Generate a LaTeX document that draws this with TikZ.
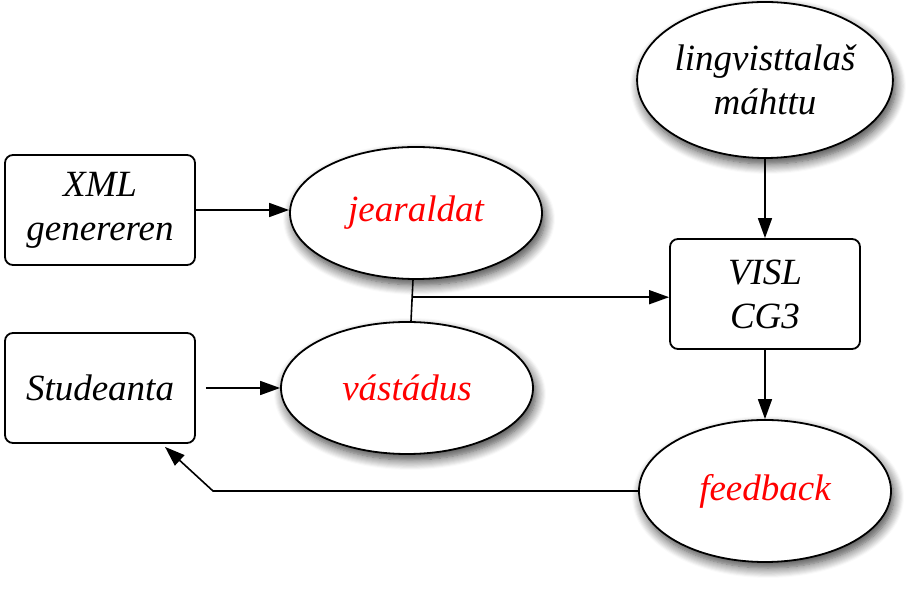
\documentclass[tikz,border=0pt]{standalone}
\usepackage{fontspec}
\setmainfont{Liberation Serif}
\usetikzlibrary{shapes.geometric,arrows.meta,calc,shadows.blur}

\tikzset{
  boks/.style={draw,line width=0.9pt,rounded corners=4pt,fill=white,
    minimum width=95pt,minimum height=55pt,align=center},
  ovala/.style={ellipse,draw,line width=0.9pt,fill=white,inner sep=0pt,
    minimum width=126pt,minimum height=66pt,align=center,
    blur shadow={shadow xshift=1.5pt,shadow yshift=-3pt,shadow blur steps=10,shadow blur radius=5pt,shadow opacity=75}},
  linja/.style={line width=0.8pt},
  nuolla/.style={linja,-{Triangle[length=10pt,width=7pt]}}
}

\begin{document}
\begin{tikzpicture}[x=0.5pt,y=-0.5pt,font=\fontsize{18.5}{22}\selectfont\itshape]
\useasboundingbox (0,0) rectangle (912,592);

% bovssat
\node [boks] (xml)  at (100,210) {XML\\genereren};
\node [boks] (stud) at (100,388) {Studeanta};
\node [boks] (visl) at (765,294) {VISL\\CG3};

% ovalat
\node [ovala,text=red] (jear) at (416,213) {jearaldat};
\node [ovala,text=red] (vast) at (407,388) {vástádus};
\node [ovala,minimum width=125pt,minimum height=78pt] (ling) at (765,80) {lingvisttalaš\\máhttu};
\node [ovala,text=red,minimum height=71pt] (feed) at (765,491) {feedback};

% njuolat
\draw [nuolla] (xml.east) -- (xml.east -| jear.west);
\draw [nuolla] ([xshift=5pt]stud.east) -- (vast.west);
\draw [linja] ([xshift=-1.5pt]jear.south) -- ([xshift=2pt]vast.north);
\coordinate (gaska) at ($([xshift=-1.5pt]jear.south)!0.42!([xshift=2pt]vast.north)$);
\draw [nuolla] (gaska) -- (gaska -| visl.west);
\draw [nuolla] (ling) -- (visl);
\draw [nuolla] (visl) -- (feed);
\coordinate (mutka) at (213,491);
\draw [nuolla] (feed.west) -- (mutka) -- ([xshift=32.5pt,yshift=-1.5pt]stud.south);
\end{tikzpicture}
\end{document}
